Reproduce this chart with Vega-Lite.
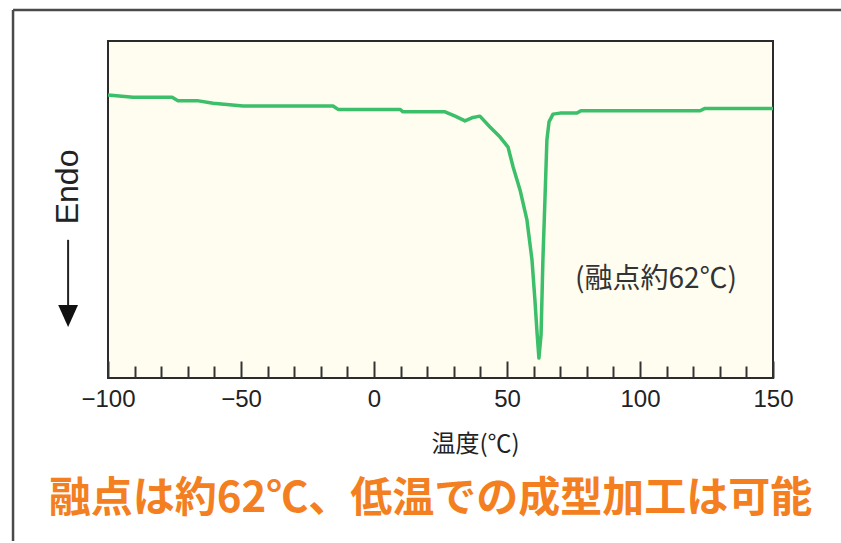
{
  "$schema": "https://vega.github.io/schema/vega-lite/v6.json",
  "width": 665,
  "height": 337,
  "autosize": {"type": "none"},
  "padding": {"left": 108, "top": 41, "right": 68, "bottom": 165},
  "background": "white",
  "config": {"view": {"fill": "#FFFDEF", "stroke": "#2b2b2b", "strokeWidth": 2}},
  "title": {
    "text": "融点は約62℃、低温での成型加工は可能",
    "orient": "bottom",
    "frame": "group",
    "anchor": "middle",
    "font": "Noto Sans CJK JP",
    "fontSize": 42,
    "fontWeight": "bold",
    "color": "#F47F20",
    "offset": -63,
    "dx": -10
  },
  "encoding": {
    "x": {
      "field": "T",
      "type": "quantitative",
      "scale": {"domain": [-100, 150], "nice": false, "zero": false},
      "axis": {
        "values": [-100, -90, -80, -70, -60, -50, -40, -30, -20, -10, 0, 10, 20, 30, 40, 50, 60, 70, 80, 90, 100, 110, 120, 130, 140, 150],
        "tickSize": {"condition": {"test": "datum.value % 50 === 0", "value": -17}, "value": -12},
        "tickColor": "#333333",
        "tickWidth": 2,
        "domain": false,
        "grid": false,
        "labelExpr": "datum.value % 50 === 0 ? datum.label : ''",
        "labelFont": "Liberation Sans",
        "labelFontSize": 24,
        "labelColor": "#222222",
        "labelPadding": 26,
        "labelFlush": false,
        "labelOverlap": false,
        "title": "温度(℃)",
        "titleFont": "Noto Sans CJK JP",
        "titleFontSize": 24,
        "titleFontWeight": "normal",
        "titleColor": "#222222",
        "titleX": 367,
        "titleY": 66,
        "titleBaseline": "middle"
      }
    },
    "y": {
      "field": "v",
      "type": "quantitative",
      "scale": {"domain": [0, 100], "nice": false, "zero": false},
      "axis": null
    }
  },
  "layer": [
    {
      "data": {"values": [{"T": -135.7, "T2": 230, "v": 109.2}]},
      "mark": {"type": "rule", "color": "#4a4a4a", "strokeWidth": 2.5, "clip": false},
      "encoding": {"x2": {"field": "T2"}}
    },
    {
      "data": {"values": [{"T": -135.7, "v": 109.2, "v2": -48.4}]},
      "mark": {"type": "rule", "color": "#4a4a4a", "strokeWidth": 2.5, "clip": false},
      "encoding": {"y2": {"field": "v2"}}
    },
    {
      "data": {"values": [
        {"T": -100, "v": 84.0},
        {"T": -90.6, "v": 83.3},
        {"T": -75.9, "v": 83.3},
        {"T": -73.7, "v": 82.3},
        {"T": -66.5, "v": 82.3},
        {"T": -60.5, "v": 81.5},
        {"T": -49.2, "v": 80.7},
        {"T": -15.4, "v": 80.7},
        {"T": -13.5, "v": 79.7},
        {"T": 9.8, "v": 79.7},
        {"T": 10.9, "v": 79.0},
        {"T": 26.7, "v": 79.0},
        {"T": 30.5, "v": 77.7},
        {"T": 34.2, "v": 76.3},
        {"T": 36.8, "v": 77.2},
        {"T": 39.8, "v": 77.7},
        {"T": 43.6, "v": 74.5},
        {"T": 47.4, "v": 71.5},
        {"T": 50.4, "v": 68.5},
        {"T": 52.3, "v": 62.6},
        {"T": 54.9, "v": 55.8},
        {"T": 57.5, "v": 46.9},
        {"T": 59.4, "v": 35.0},
        {"T": 60.5, "v": 23.1},
        {"T": 61.3, "v": 13.4},
        {"T": 62.0, "v": 5.9},
        {"T": 62.8, "v": 12.8},
        {"T": 63.5, "v": 35.0},
        {"T": 64.3, "v": 53.7},
        {"T": 65.0, "v": 70.6},
        {"T": 65.8, "v": 76.0},
        {"T": 67.3, "v": 78.3},
        {"T": 69.9, "v": 78.6},
        {"T": 76.3, "v": 78.6},
        {"T": 77.8, "v": 79.3},
        {"T": 122.6, "v": 79.3},
        {"T": 124.4, "v": 80.0},
        {"T": 150, "v": 80.0}
      ]},
      "mark": {"type": "line", "color": "#3CBF6A", "strokeWidth": 3.5, "strokeJoin": "round"}
    },
    {
      "data": {"values": [{"T": 106, "v": 29, "label": "(融点約62℃)"}]},
      "mark": {"type": "text", "font": "Noto Sans CJK JP", "fontSize": 28, "color": "#333333", "align": "center", "baseline": "middle"},
      "encoding": {"text": {"field": "label"}}
    },
    {
      "data": {"values": [{"T": -115, "v": 56.7, "label": "Endo"}]},
      "mark": {"type": "text", "font": "Liberation Sans", "fontSize": 32, "color": "#222222", "align": "center", "baseline": "middle", "angle": 270, "clip": false},
      "encoding": {"text": {"field": "label"}}
    },
    {
      "data": {"values": [{"T": -115, "v": 41, "v2": 18.4}]},
      "mark": {"type": "rule", "color": "#222222", "strokeWidth": 2, "clip": false},
      "encoding": {"y2": {"field": "v2"}}
    },
    {
      "data": {"values": [{"T": -115, "v": 18.4}]},
      "mark": {"type": "point", "shape": "M-0.9,-1L0.9,-1L0,1Z", "size": 484, "filled": true, "color": "#111111", "opacity": 1, "clip": false}
    }
  ]
}
